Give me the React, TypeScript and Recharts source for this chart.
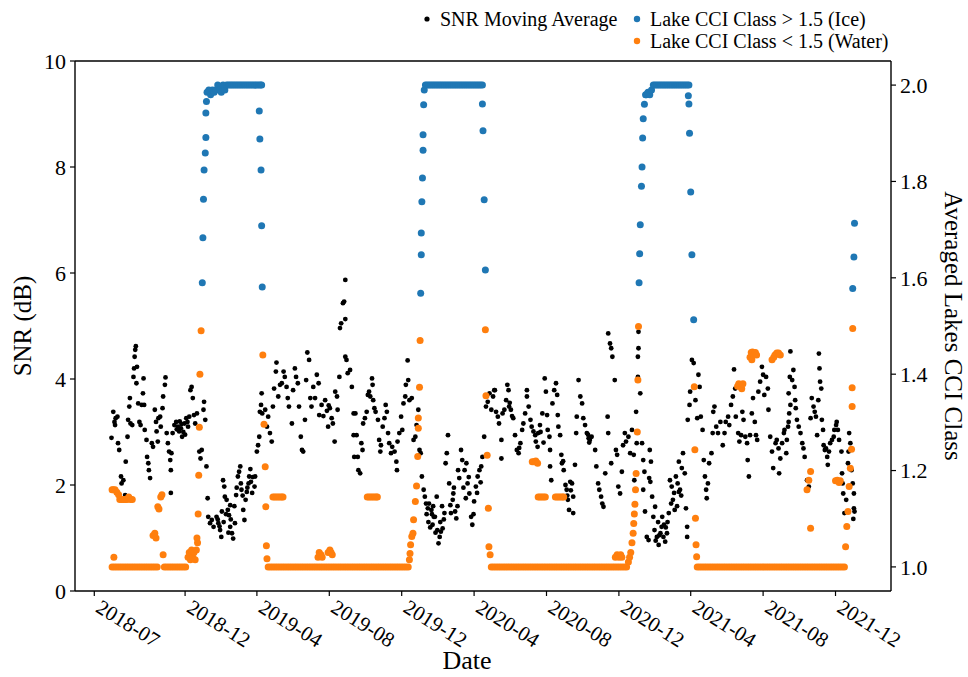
import React from 'react';
import { ScatterChart, Scatter, XAxis, YAxis, ReferenceLine } from 'recharts';

// x values are days since 2018-07-01
const tickDays = [0, 153, 274, 396, 518, 640, 762, 884, 1005, 1127, 1249];
const tickLabels = ['2018-07', '2018-12', '2019-04', '2019-08', '2019-12', '2020-04', '2020-08', '2020-12', '2021-04', '2021-08', '2021-12'];
const snrTicks = [0, 2, 4, 6, 8, 10];
const cciTicks = [1.0, 1.2, 1.4, 1.6, 1.8, 2.0];

const snr2018: [number, number][] = [
  [29,2.89],[32,3.38],[34,3.19],[35,3.13],[36,3.26],[39,3.29],[40,2.79],[42,2.66],[45,2.16],[46,2.03],[49,2.09],[52,1.81],[53,2.44],[56,2.91],[57,3.23],[59,3.48],[60,3.64],[61,3.16],[64,3.13],[66,4.04],[67,4.2],[68,4.42],[69,4.55],[70,4.62],[71,3.92],[72,4.23],[74,3.54],[76,3.19],[78,3.13],[80,3.51],[82,3.73],[83,4.01],[84,3.51],[85,3.04],[88,2.85],[89,2.53],[91,2.41],[92,2.28],[94,2.13],[97,2.79],[99,2.72],[102,3.42],[104,3.19],[105,3.01],[107,2.82],[108,3.26],[111,3.29],[112,3.1],[115,3.45],[116,3.67],[119,3.89],[120,4.03],[122,2.98],[124,2.79],[126,2.63],[128,2.47],[129,2.28],[130,2.6],[129,1.85],[132,2.98],[135,3.13],[138,3.19],[139,3.05],[141,3.1],[143,3.01],[144,3.2],[146,3.07],[147,3.15],[148,2.91],[150,3.0],[152,3.16],[153,2.95],[155,3.26],[157,3.19],[158,3.1],[160,3.29],[162,3.79],[164,3.85],[166,3.64],[168,3.32],[170,3.16],[173,3.35],[177,2.63],[179,2.5],[181,2.66],[184,3.42],[185,3.57],[187,3.23],[189,2.35],[191,1.75],[192,1.4],[195,1.28],[198,1.34],[201,1.21],
];
const snr2019a: [number, number][] = [
  [206,1.4],[208,1.35],[209,1.28],[211,1.22],[212,1.15],[214,1.02],[215,1.5],[217,2.09],[218,1.3],[219,1.97],[220,1.78],[222,1.45],[223,1.72],[225,1.53],[226,1.1],[227,1.43],[229,1.62],[229,1.21],[230,1.35],[232,1.09],[234,0.99],[236,1.6],[237,1.28],[239,1.81],[240,1.95],[242,2.16],[244,2.25],[246,2.35],[247,2.03],[248,1.91],[250,1.8],[251,1.53],[253,1.34],[255,1.72],[257,1.87],[258,1.95],[260,2.03],[261,2.16],[263,2.3],[264,2.06],[266,1.85],[267,2.15],[270,1.97],[271,2.16],[274,2.63],[276,2.75],[278,2.91],[279,3.38],[281,3.51],[282,3.73],[283,3.35],[288,3.42],[291,3.1],[293,3.29],[296,2.98],[299,2.82],[301,3.48],[303,3.82],[306,4.14],[307,4.31],[310,3.67],[313,3.89],[316,3.92],[319,4.14],[321,4.04],[324,3.85],[326,3.64],[328,3.48],[333,3.16],[335,3.79],[338,4.2],[340,4.04],[343,3.92],[345,3.48],[348,2.91],[350,2.66],[352,2.63],[355,3.23],[357,3.98],[359,4.5],[362,4.36],[364,3.64],[366,3.48],[369,3.85],[372,3.64],[375,4.08],[378,3.92],[379,3.32],[383,3.51],[386,3.3],[389,3.6],[392,3.4],[394,3.1],[395,3.5],[397,3.45],[400,3.26],[402,3.16],[405,2.82],[406,3.76],[409,3.67],[410,3.42],[413,4.04],[414,4.96],[416,5.05],[419,5.43],[421,5.46],[423,5.13],[423,5.87],[423,4.42],[425,4.36],[427,4.11],[431,4.17],[434,3.85],[437,2.94],[438,2.53],[437,3.35],
];
const snr2019b: [number, number][] = [
  [440,3.35],[442,2.94],[444,2.53],[445,2.28],[448,2.22],[450,2.79],[452,2.66],[453,3.16],[456,3.26],[459,3.38],[461,3.7],[463,3.76],[465,3.67],[468,4.01],[469,3.89],[470,3.6],[472,3.45],[474,3.38],[478,3.23],[480,2.85],[482,2.63],[483,2.75],[486,3.1],[489,3.26],[491,3.51],[493,3.38],[495,2.98],[497,2.79],[500,2.6],[502,2.72],[506,2.63],[509,2.44],[510,2.28],[511,2.82],[514,2.98],[517,3.29],[519,3.04],[521,3.54],[524,3.67],[525,3.89],[528,4.35],[529,3.98],[531,3.6],[535,3.64],[538,2.85],[541,2.91],[543,3.13],[546,3.42],[548,2.66],[550,2.6],[552,2.16],[555,1.91],[557,1.78],[559,1.65],[560,1.45],[562,1.56],[563,1.3],[564,1.65],[566,1.2],[568,1.53],[569,1.45],[570,1.25],[571,1.6],[572,1.4],[574,1.4],[575,1.1],[577,1.78],[578,1.15],[580,0.9],[582,1.02],[583,1.3],[584,1.12],[586,1.6],[587,1.18],[589,1.35],[590,1.47],[592,2.41],[594,2.6],[596,2.94],[598,2.03],[600,1.62],[601,1.47],[604,1.72],[605,1.84],[606,1.95],[608,1.5],[610,1.37],[612,1.6],[613,2.28],[615,2.13],[618,2.66],[620,2.47],[622,1.95],[624,2.28],[626,1.75],[627,2.41],[629,2.03],[631,2.15],[632,1.84],[635,1.4],[637,1.25],[639,1.45],[640,1.69],[643,1.97],[645,1.85],[646,2.16],[649,2.28],[651,2.05],[652,2.35],[654,2.53],[657,2.91],[660,3.48],[663,3.57],[666,3.73],[669,3.42],[672,3.67],[674,3.79],
];
const snr2020: [number, number][] = [
  [675,3.79],[677,3.38],[680,3.29],[682,3.16],[686,2.85],[686,2.5],[688,3.35],[691,3.42],[694,3.6],[696,3.89],[698,3.79],[699,3.48],[700,3.55],[702,3.42],[704,3.3],[706,3.26],[709,2.94],[712,2.66],[715,2.6],[716,2.7],[718,2.79],[721,3.04],[723,3.16],[726,3.35],[729,3.67],[729,3.79],[732,3.48],[735,3.23],[737,3.1],[740,3.01],[743,2.94],[744,2.82],[747,2.72],[748,2.98],[751,3.13],[752,3.0],[755,3.35],[757,2.8],[759,4.01],[761,3.76],[763,3.32],[764,3.04],[767,2.91],[768,2.66],[768,2.35],[770,2.09],[772,3.54],[775,3.79],[778,3.92],[780,3.7],[781,3.32],[782,3.1],[785,2.94],[787,2.57],[788,2.41],[790,2.45],[791,2.28],[794,2.0],[796,1.91],[797,1.8],[798,1.72],[800,1.53],[802,2.06],[803,1.9],[805,2.03],[807,1.78],[807,1.47],[810,2.38],[812,2.98],[813,3.29],[816,3.98],[819,3.67],[822,3.54],[824,3.26],[827,3.13],[830,2.98],[832,2.95],[833,2.88],[834,2.8],[835,2.85],[836,2.9],[838,2.91],[844,2.66],[846,2.35],[849,2.03],[851,1.91],[854,1.78],[856,1.65],[858,1.59],[861,2.22],[865,3.29],[866,4.86],[869,4.67],[871,4.58],[873,4.42],[877,3.98],[866,2.98],[871,2.41],[879,2.66],[881,2.57],[883,1.97],[886,1.84],[889,2.25],[891,2.75],[894,2.98],[896,2.82],[900,2.91],[903,2.6],[906,3.04],[909,2.57],[910,2.09],
];
const snr2021a: [number, number][] = [
  [913,3.38],[914,2.79],[916,4.42],[916,4.04],[917,4.89],[917,4.58],[920,3.73],[923,2.79],[925,2.47],[927,2.25],[925,1.91],[928,1.5],[931,1.02],[934,0.96],[936,2.66],[938,2.44],[935,2.13],[937,2.06],[940,1.78],[942,1.4],[944,1.15],[945,1.59],[946,0.95],[948,1.02],[950,1.3],[951,0.87],[952,1.05],[954,1.09],[956,1.21],[957,1.4],[959,1.02],[960,1.25],[962,0.93],[963,1.2],[965,1.09],[966,1.3],[968,1.47],[970,2.09],[972,1.65],[973,1.97],[975,1.72],[977,1.85],[978,1.53],[980,2.16],[982,1.6],[983,2.03],[985,1.87],[987,1.91],[985,2.44],[989,1.8],[990,2.32],[992,2.6],[995,2.22],[997,1.56],[999,1.21],[999,1.02],[1000,3.23],[1003,3.51],[1004,3.76],[1007,4.36],[1010,4.3],[1013,3.6],[1016,3.26],[1018,4.08],[1020,3.85],[1022,3.29],[1025,3.04],[1027,2.47],[1029,2.16],[1031,1.91],[1032,1.75],[1034,2.03],[1036,2.41],[1040,2.6],[1042,2.98],[1043,3.38],[1045,3.48],[1048,3.1],[1051,2.98],[1055,3.19],[1059,2.75],[1062,2.98],[1064,3.19],[1068,3.29],[1070,3.13],[1073,3.51],[1076,3.67],[1078,4.18],[1080,3.82],[1081,3.29],[1085,2.98],[1087,2.82],[1090,2.94],[1092,3.38],[1094,3.23],[1097,2.91],[1100,2.79],[1101,2.47],[1103,2.16],[1105,2.94],[1108,3.35],[1110,3.64],[1113,3.19],[1115,2.94],[1117,2.85],[1119,3.76],[1122,3.95],[1125,4.23],[1127,4.08],[1129,3.7],[1132,4.04],[1135,3.82],[1136,3.42],[1139,2.91],[1142,2.63],[1144,2.32],
];
const snr2021b: [number, number][] = [
  [1148,2.79],[1150,2.85],[1153,2.69],[1154,2.22],[1156,2.5],[1159,2.79],[1162,2.98],[1163,3.04],[1166,2.6],[1167,2.85],[1169,3.1],[1170,3.19],[1171,3.35],[1173,3.51],[1170,3.73],[1172,4.04],[1173,4.52],[1176,3.98],[1178,4.17],[1180,3.85],[1181,3.6],[1182,3.45],[1184,3.23],[1187,3.1],[1190,2.98],[1193,2.79],[1195,2.69],[1197,2.53],[1201,2.09],[1204,1.97],[1207,3.26],[1209,3.64],[1212,3.48],[1214,3.38],[1216,3.29],[1218,2.94],[1220,3.6],[1221,4.48],[1222,4.2],[1223,3.95],[1225,3.82],[1226,3.23],[1228,3.04],[1229,2.75],[1231,2.66],[1233,2.69],[1235,2.53],[1236,2.38],[1238,2.63],[1240,2.79],[1243,2.85],[1246,2.91],[1247,3.04],[1250,3.13],[1251,3.19],[1253,3.04],[1255,2.85],[1259,2.63],[1260,2.22],[1261,2.03],[1262,1.84],[1264,1.47],[1267,1.72],[1270,2.41],[1271,2.63],[1272,2.98],[1274,2.79],[1276,2.28],[1278,2.03],[1279,1.36],[1280,1.84],[1280,1.56],[1281,1.5],
];

const cciSummer2018: [number, number][] = [
  [30,1.16],[30,1.0],[32,1.16],[33,1.02],[34,1.0],[35,1.16],[38,1.155],[38,1.0],[41,1.15],[42,1.0],[43,1.14],[46,1.14],[46,1.0],[49,1.14],[50,1.0],[52,1.14],[54,1.0],[55,1.14],[58,1.145],[58,1.0],[61,1.14],[62,1.0],[64,1.14],[66,1.0],[70,1.0],[74,1.0],[78,1.0],[82,1.0],[86,1.0],[90,1.0],[94,1.0],[98,1.0],[99,1.065],[102,1.07],[102,1.0],[104,1.06],[106,1.0],[107,1.125],[109,1.12],[112,1.145],[114,1.15],[116,1.025],[118,1.0],[122,1.0],[126,1.0],[130,1.0],[134,1.0],[138,1.0],[142,1.0],[146,1.0],[150,1.0],[154,1.0],[158,1.02],[160,1.03],[162,1.015],[164,1.035],[166,1.02],[168,1.03],[170,1.015],[172,1.035],[173,1.06],[174,1.05],[175,1.11],[176,1.19],[177,1.29],[178,1.4],[180,1.49],
];
const cciWinter2019: [number, number][] = [
  [182,1.59],[183,1.683],[184,1.763],[185,1.824],[187,1.859],[188,1.891],[188,1.942],[189,1.966],[190,1.985],[193,1.99],[196,1.98],[199,1.99],[202,1.985],[205,1.99],[208,2.0],[211,1.99],[214,1.985],[217,2.0],[220,1.99],[223,2.0],[226,2.0],[229,2.0],[232,2.0],[235,2.0],[238,2.0],[241,2.0],[244,2.0],[247,2.0],[250,2.0],[253,2.0],[256,2.0],[259,2.0],[262,2.0],[265,2.0],[268,2.0],[271,2.0],[274,2.0],[277,2.0],[280,2.0],[282,2.0],[278,1.946],[279,1.888],[281,1.824],[282,1.708],[283,1.581],[284,1.44],[286,1.296],[288,1.208],[289,1.125],[290,1.044],[291,1.017],
];
const cciSummer2019: [number, number][] = [
  [293,1.0],[297,1.0],[301,1.0],[305,1.0],[309,1.0],[313,1.0],[317,1.0],[321,1.0],[325,1.0],[329,1.0],[333,1.0],[337,1.0],[341,1.0],[345,1.0],[349,1.0],[353,1.0],[357,1.0],[361,1.0],[365,1.0],[369,1.0],[373,1.0],[377,1.0],[381,1.0],[385,1.0],[389,1.0],[393,1.0],[397,1.0],[401,1.0],[405,1.0],[409,1.0],[413,1.0],[417,1.0],[421,1.0],[425,1.0],[429,1.0],[433,1.0],[437,1.0],[441,1.0],[445,1.0],[449,1.0],[453,1.0],[457,1.0],[461,1.0],[465,1.0],[469,1.0],[473,1.0],[477,1.0],[481,1.0],[485,1.0],[489,1.0],[493,1.0],[497,1.0],[501,1.0],[505,1.0],[509,1.0],[513,1.0],[517,1.0],[521,1.0],[525,1.0],[529,1.0],
  [301,1.145],[304,1.145],[307,1.145],[310,1.145],[313,1.145],[316,1.145],[318,1.145],
  [377,1.02],[379,1.03],[382,1.025],[384,1.02],[394,1.03],[397,1.035],[399,1.03],[401,1.025],
  [460,1.145],[463,1.145],[466,1.145],[469,1.145],[472,1.145],[475,1.145],[477,1.145],
  [531,1.015],[532,1.028],[533,1.046],[535,1.063],[537,1.07],[538,1.098],[541,1.136],[543,1.168],[545,1.229],[546,1.288],[546,1.309],[548,1.373],[549,1.47],
];
const cciWinter2020: [number, number][] = [
  [550,1.568],[551,1.648],[551,1.693],[552,1.758],[553,1.807],[554,1.865],[554,1.897],[555,1.959],[556,1.99],
  [558,2.0],[561,2.0],[564,2.0],[567,2.0],[570,2.0],[573,2.0],[576,2.0],[579,2.0],[582,2.0],[585,2.0],[588,2.0],[591,2.0],[594,2.0],[597,2.0],[600,2.0],[603,2.0],[606,2.0],[609,2.0],[612,2.0],[615,2.0],[618,2.0],[621,2.0],[624,2.0],[627,2.0],[630,2.0],[633,2.0],[636,2.0],[639,2.0],[642,2.0],[645,2.0],[648,2.0],[651,2.0],[654,2.0],
  [654,1.961],[655,1.905],[657,1.762],[659,1.616],[659,1.492],[660,1.355],[662,1.232],[664,1.122],[665,1.042],[667,1.025],
];
const cciSummer2020: [number, number][] = [
  [669,1.0],[673,1.0],[677,1.0],[681,1.0],[685,1.0],[689,1.0],[693,1.0],[697,1.0],[701,1.0],[705,1.0],[709,1.0],[713,1.0],[717,1.0],[721,1.0],[725,1.0],[729,1.0],[733,1.0],[737,1.0],[741,1.0],[745,1.0],[749,1.0],[753,1.0],[757,1.0],[761,1.0],[765,1.0],[769,1.0],[773,1.0],[777,1.0],[781,1.0],[785,1.0],[789,1.0],[793,1.0],[797,1.0],[801,1.0],[805,1.0],[809,1.0],[813,1.0],[817,1.0],[821,1.0],[825,1.0],[829,1.0],[833,1.0],[837,1.0],[841,1.0],[845,1.0],[849,1.0],[853,1.0],[857,1.0],[861,1.0],[865,1.0],[869,1.0],[873,1.0],[877,1.0],[881,1.0],[885,1.0],[889,1.0],[893,1.0],[897,1.0],
  [738,1.218],[741,1.218],[744,1.22],[747,1.215],
  [748,1.145],[751,1.145],[754,1.145],[757,1.145],[760,1.145],[777,1.145],[780,1.145],[783,1.145],[786,1.145],[789,1.145],[791,1.145],
  [878,1.02],[881,1.025],[884,1.02],[887,1.025],[889,1.02],
  [900,1.01],[902,1.02],[904,1.03],[906,1.05],[908,1.07],[909,1.09],[910,1.11],[911,1.13],[912,1.16],[913,1.194],[915,1.28],[916,1.388],[917,1.499],
];
const cciWinter2021: [number, number][] = [
  [918,1.59],[919,1.65],[920,1.71],[922,1.79],[923,1.83],[924,1.89],[925,1.93],[927,1.96],[929,1.98],
  [930,1.98],[933,1.985],[936,1.98],[939,1.99],[942,2.0],[945,2.0],[948,2.0],[951,2.0],[954,2.0],[957,2.0],[960,2.0],[963,2.0],[966,2.0],[969,2.0],[972,2.0],[975,2.0],[978,2.0],[981,2.0],[984,2.0],[987,2.0],[990,2.0],[993,2.0],[996,2.0],[999,2.0],[1002,2.0],
  [1001,1.978],[1002,1.961],[1003,1.9],[1005,1.778],[1007,1.648],[1010,1.513],
  [1011,1.374],[1012,1.243],[1013,1.101],[1014,1.046],[1015,1.021],
];
const cciSummer2021: [number, number][] = [
  [1016,1.0],[1020,1.0],[1024,1.0],[1028,1.0],[1032,1.0],[1036,1.0],[1040,1.0],[1044,1.0],[1048,1.0],[1052,1.0],[1056,1.0],[1060,1.0],[1064,1.0],[1068,1.0],[1072,1.0],[1076,1.0],[1080,1.0],[1084,1.0],[1088,1.0],[1092,1.0],[1096,1.0],[1100,1.0],[1104,1.0],[1108,1.0],[1112,1.0],[1116,1.0],[1120,1.0],[1124,1.0],[1128,1.0],[1132,1.0],[1136,1.0],[1140,1.0],[1144,1.0],[1148,1.0],[1152,1.0],[1156,1.0],[1160,1.0],[1164,1.0],[1168,1.0],[1172,1.0],[1176,1.0],[1180,1.0],[1184,1.0],[1188,1.0],[1192,1.0],[1196,1.0],[1200,1.0],[1204,1.0],[1208,1.0],[1212,1.0],[1216,1.0],[1220,1.0],[1224,1.0],[1228,1.0],[1232,1.0],[1236,1.0],[1240,1.0],[1244,1.0],[1248,1.0],[1252,1.0],[1256,1.0],[1260,1.0],[1264,1.0],
  [1084,1.375],[1086,1.38],[1088,1.375],[1091,1.37],[1093,1.38],
  [1105,1.435],[1107,1.445],[1108,1.43],[1109,1.446],[1111,1.44],[1114,1.445],[1116,1.44],
  [1142,1.43],[1145,1.435],[1147,1.44],[1150,1.444],[1153,1.444],[1156,1.44],
  [1201,1.16],[1204,1.18],[1207,1.198],[1207,1.08],[1249,1.179],[1252,1.18],[1255,1.175],[1257,1.179],
  [1266,1.042],[1268,1.084],[1270,1.115],[1272,1.167],[1274,1.205],[1276,1.244],[1277,1.333],[1277,1.372],[1278,1.495],
  [1278,1.578],[1280,1.643],[1281,1.713],
];

const snrData = [...snr2018, ...snr2019a, ...snr2019b, ...snr2020, ...snr2021a, ...snr2021b].map(([day, snr]) => ({ day, snr }));
const cciData = [...cciSummer2018, ...cciWinter2019, ...cciSummer2019, ...cciWinter2020, ...cciSummer2020, ...cciWinter2021, ...cciSummer2021].map(([day, cci]) => ({ day, cci }));
const waterData = cciData.filter((d) => d.cci < 1.5);
const iceData = cciData.filter((d) => d.cci >= 1.5);

const W = 968;
const H = 677;
const FONT = '"Liberation Serif", "Times New Roman", serif';
const BLUE = '#1f77b4';
const ORANGE = '#ff7f0e';
const TICK_FS = 22;

const DateTick = (props: any) => {
  const { x, y, payload } = props;
  const i = tickDays.indexOf(payload.value);
  const tx = x + 9;
  const ty = y - 1;
  return (
    <text x={tx} y={ty} dy="0.78em" transform={`rotate(32 ${tx} ${ty})`} textAnchor="start" fontFamily={FONT} fontSize={21} fill="#000">
      {i >= 0 ? tickLabels[i] : ''}
    </text>
  );
};

const dot = (r: number, fill: string) => (p: any) => <circle cx={p.cx} cy={p.cy} r={r} fill={fill} />;

export default function App() {
  return (
    <div style={{ position: 'relative', width: W, height: H, overflow: 'hidden', background: '#fff' }}>
      <style>{'body{margin:0;}'}</style>
      <ScatterChart width={W} height={H} margin={{ top: 61, right: 0, bottom: 0, left: 0 }}>
        <XAxis
          dataKey="day"
          type="number"
          domain={[-32.5, 1342.5]}
          ticks={tickDays}
          tick={<DateTick />}
          height={86}
          tickSize={5}
          axisLine={{ stroke: '#000', strokeWidth: 1.4 }}
          tickLine={{ stroke: '#000', strokeWidth: 1.2 }}
          interval={0}
        />
        <YAxis
          yAxisId="snr"
          dataKey="snr"
          type="number"
          domain={[0, 10]}
          ticks={snrTicks}
          width={75}
          tickSize={5}
          tickMargin={4}
          axisLine={{ stroke: '#000', strokeWidth: 1.4 }}
          tickLine={{ stroke: '#000', strokeWidth: 1.2 }}
          tick={{ fill: '#000', fontFamily: FONT, fontSize: TICK_FS }}
        />
        <YAxis
          yAxisId="cci"
          dataKey="cci"
          type="number"
          orientation="right"
          domain={[0.95, 2.05]}
          ticks={cciTicks}
          tickFormatter={(v: number) => v.toFixed(1)}
          width={77}
          tickSize={5}
          tickMargin={4}
          axisLine={{ stroke: '#000', strokeWidth: 1.4 }}
          tickLine={{ stroke: '#000', strokeWidth: 1.2 }}
          tick={{ fill: '#000', fontFamily: FONT, fontSize: TICK_FS }}
        />
        <ReferenceLine yAxisId="snr" y={10} stroke="#000" strokeWidth={1.4} />
        <Scatter yAxisId="snr" data={snrData} fill="#000" shape={dot(2.4, '#000')} isAnimationActive={false} />
        <Scatter yAxisId="cci" data={waterData} fill={ORANGE} shape={dot(3.5, ORANGE)} isAnimationActive={false} />
        <Scatter yAxisId="cci" data={iceData} fill={BLUE} shape={dot(3.5, BLUE)} isAnimationActive={false} />
      </ScatterChart>
      <svg width={W} height={H} style={{ position: 'absolute', left: 0, top: 0, pointerEvents: 'none' }}>
        <g fontFamily={FONT} fill="#000">
          <text x={22} y={326} transform="rotate(-90 22 326)" textAnchor="middle" dominantBaseline="central" fontSize={25}>SNR (dB)</text>
          <text x={953} y={326} transform="rotate(90 953 326)" textAnchor="middle" dominantBaseline="central" fontSize={25}>Averaged Lakes CCI Class</text>
          <text x={467} y={669} textAnchor="middle" fontSize={26}>Date</text>
        </g>
        <g fontFamily={FONT} fontSize={20} fill="#000">
          <circle cx={427} cy={19} r={2.6} fill="#000" />
          <text x={440} y={26}>SNR Moving Average</text>
          <circle cx={637} cy={19} r={3.2} fill={BLUE} />
          <text x={650} y={26}>Lake CCI Class &gt; 1.5 (Ice)</text>
          <circle cx={637} cy={41} r={3.2} fill={ORANGE} />
          <text x={650} y={48}>Lake CCI Class &lt; 1.5 (Water)</text>
        </g>
      </svg>
    </div>
  );
}
